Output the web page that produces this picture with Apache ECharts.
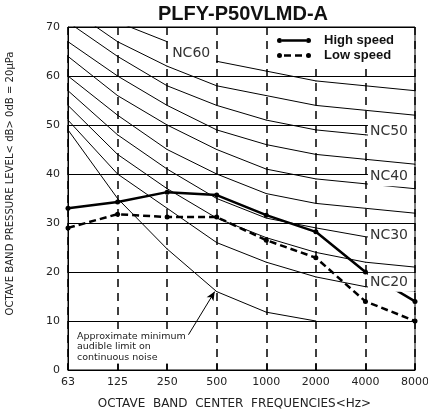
<!DOCTYPE html>
<html><head><meta charset="utf-8">
<script src="https://cdn.jsdelivr.net/npm/echarts@6/dist/echarts.min.js"></script>
<style>html,body{margin:0;padding:0;background:#fff}#c{width:428px;height:416px}</style>
</head><body><div id="c"></div>
<script>
// ---- data ----
const FREQS = ['63', '125', '250', '500', '1000', '2000', '4000', '8000'];
const Y_TICKS = [0, 10, 20, 30, 40, 50, 60, 70];
const NC20 = [51, 40, 33, 26, 22, 19, 17, 16];
const NC25 = [54, 44, 37, 31, 27, 24, 22, 21];
const NC30 = [57, 48, 41, 35, 31, 29, 27.2, 26.4];
const NC35 = [60, 52, 45, 40, 36, 34, 33, 32];
const NC40 = [64, 56, 50, 45, 41, 39, 38, 37];
const NC45 = [67, 60, 54, 49, 46, 44, 43, 42];
const NC50 = [71, 64, 58, 54, 51, 49, 48, 47];
const NC55 = [74, 67, 62, 58, 56, 54, 53, 52];
const NC60 = [77, 71, 67, 63, 61, 59, 58, 57];
const AUDIBLE = [49, 35, 24.7, 16, 11.8, 10, null, null];
const HIGH = [33, 34.3, 36.3, 35.7, 31.6, 28.2, 20, 14];
const LOW = [29, 31.8, 31.2, 31.2, 26.5, 22.9, 14, 10];
const TITLE = 'PLFY-P50VLMD-A';
const NOTE = 'Approximate minimum\naudible limit on\ncontinuous noise';

// ---- styling ----
const LABELED = { NC50: -3, NC40: -7, NC30: -1, NC20: -4.5 };
const ncLabel = (name) => ({
  show: true, formatter: name, position: 'right', distance: 2,
  offset: [0, LABELED[name]],
  fontFamily: 'DejaVu Sans', fontSize: 14, color: '#333', lineHeight: 13,
  backgroundColor: '#fff', padding: [5, 6, 1, 2]
});

function ncSeries(name, values, from, to, labelIdx, labelOpt) {
  const data = [];
  values.forEach((v, i) => {
    if (v == null || i < from || i > to) return;
    data.push({ value: [i, v], label: i === labelIdx ? labelOpt : { show: false } });
  });
  return {
    name: name, type: 'line', z: 2, silent: true, animation: false,
    symbol: 'circle', symbolSize: 1, showSymbol: true,
    itemStyle: { color: '#000' },
    lineStyle: { color: '#000', width: 1 },
    data: data
  };
}

const curves = [['NC20', NC20], ['NC25', NC25], ['NC30', NC30], ['NC35', NC35],
  ['NC40', NC40], ['NC45', NC45], ['NC50', NC50], ['NC55', NC55]];
const series = curves.map(([n, v]) => ncSeries(n, v, 0, 7, LABELED[n] !== undefined ? 6 : -1, LABELED[n] !== undefined ? ncLabel(n) : null));
series.push(ncSeries('NC60a', NC60, 0, 2, -1, null));
series.push(ncSeries('NC60b', NC60, 3, 7, 3, {
  show: true, formatter: 'NC60', position: 'left', distance: 6, offset: [0, -8],
  fontFamily: 'DejaVu Sans', fontSize: 14, color: '#333'
}));
const aud = ncSeries('Audible', AUDIBLE, 0, 7, -1, null);
aud.markLine = {
  silent: true, animation: false, symbol: ['none', 'arrow'], symbolSize: [6, 9],
  label: { show: false },
  lineStyle: { color: '#000', width: 1, type: 'solid' },
  data: [[{ coord: [2.43, 7.2] }, { coord: [2.96, 16] }]]
};
series.push(aud);
series.push({
  name: 'High speed', type: 'line', z: 1, animation: false,
  data: HIGH.map((v, i) => [i, v]),
  symbol: 'circle', symbolSize: 5, itemStyle: { color: '#000' },
  lineStyle: { color: '#000', width: 2.5 }
});
series.push({
  name: 'Low speed', type: 'line', z: 1, animation: false,
  data: LOW.map((v, i) => [i, v]),
  symbol: 'circle', symbolSize: 5, itemStyle: { color: '#000' },
  lineStyle: { color: '#000', width: 2.5, type: [7, 4] }
});

const ICON_HIGH = 'path://M0,2.5a2.5,2.5 0 1,0 5,0a2.5,2.5 0 1,0 -5,0ZM5,1.3H29V3.7H5ZM29,2.5a2.5,2.5 0 1,0 5,0a2.5,2.5 0 1,0 -5,0Z';
const ICON_LOW = 'path://M0,2.5a2.5,2.5 0 1,0 5,0a2.5,2.5 0 1,0 -5,0ZM7,1.3H14V3.7H7ZM18,1.3H25V3.7H18ZM29,2.5a2.5,2.5 0 1,0 5,0a2.5,2.5 0 1,0 -5,0Z';

const chart = echarts.init(document.getElementById('c'), null, { renderer: 'canvas' });
chart.setOption({
  animation: false,
  backgroundColor: '#fff',
  title: {
    text: TITLE, left: 158, top: 4, padding: 0,
    textStyle: { fontFamily: 'Liberation Sans', fontWeight: 'bold', fontSize: 20, color: '#111' }
  },
  legend: {
    orient: 'vertical', left: 268, top: 28, padding: [6, 18, 5, 9], itemGap: 2,
    itemWidth: 34, itemHeight: 5, backgroundColor: '#fff', selectedMode: false,
    itemStyle: { borderWidth: 0 },
    data: [{ name: 'High speed', icon: ICON_HIGH }, { name: 'Low speed', icon: ICON_LOW }],
    textStyle: { fontFamily: 'Liberation Sans', fontWeight: 'bold', fontSize: 13, color: '#111', lineHeight: 13, padding: [0, 0, 0, 8] }
  },
  grid: { left: 68, right: 13, top: 27, bottom: 46, show: true, borderColor: '#000', borderWidth: 1, backgroundColor: 'transparent', outerBoundsMode: 'none', containLabel: false },
  xAxis: {
    type: 'value', min: 0, max: FREQS.length - 1, interval: 1,
    name: 'OCTAVE  BAND  CENTER  FREQUENCIES<Hz>', nameLocation: 'middle', nameGap: 28,
    nameTextStyle: { fontFamily: 'DejaVu Sans', fontSize: 12, color: '#222', padding: [0, 14, 0, 0] },
    axisLine: { show: true, lineStyle: { color: '#000', width: 1 } },
    axisTick: { show: true, inside: true, length: 6, lineStyle: { color: '#000', width: 1.5 } },
    axisLabel: { formatter: (v) => FREQS[v], fontFamily: 'DejaVu Sans', fontSize: 11, color: '#222', margin: 7 },
    splitLine: { show: true, lineStyle: { color: '#000', width: 1.5, type: [8, 6] } }
  },
  yAxis: {
    type: 'value', min: Y_TICKS[0], max: Y_TICKS[Y_TICKS.length - 1], interval: Y_TICKS[1] - Y_TICKS[0],
    name: 'OCTAVE BAND PRESSURE LEVEL< dB> 0dB = 20\u03bcPa', nameLocation: 'middle', nameGap: 52,
    nameTextStyle: { fontFamily: "'Liberation Sans Narrow', 'DejaVu Sans Condensed', sans-serif", fontSize: 11.2, color: '#222', padding: [0, 0, 0, 30] },
    axisLine: { show: true, lineStyle: { color: '#000', width: 1 } },
    axisTick: { show: false },
    axisLabel: { fontFamily: 'DejaVu Sans', fontSize: 11, color: '#222', margin: 8 },
    splitLine: { show: true, lineStyle: { color: '#000', width: 1 } }
  },
  graphic: [{
    type: 'text', left: 75, top: 330, z: 100, silent: true,
    style: {
      text: NOTE, font: '9.5px "DejaVu Sans"', fill: '#222', lineHeight: 10.5,
      backgroundColor: '#fff', padding: [1, 2]
    }
  }],
  series: series
});
</script>
</body></html>
